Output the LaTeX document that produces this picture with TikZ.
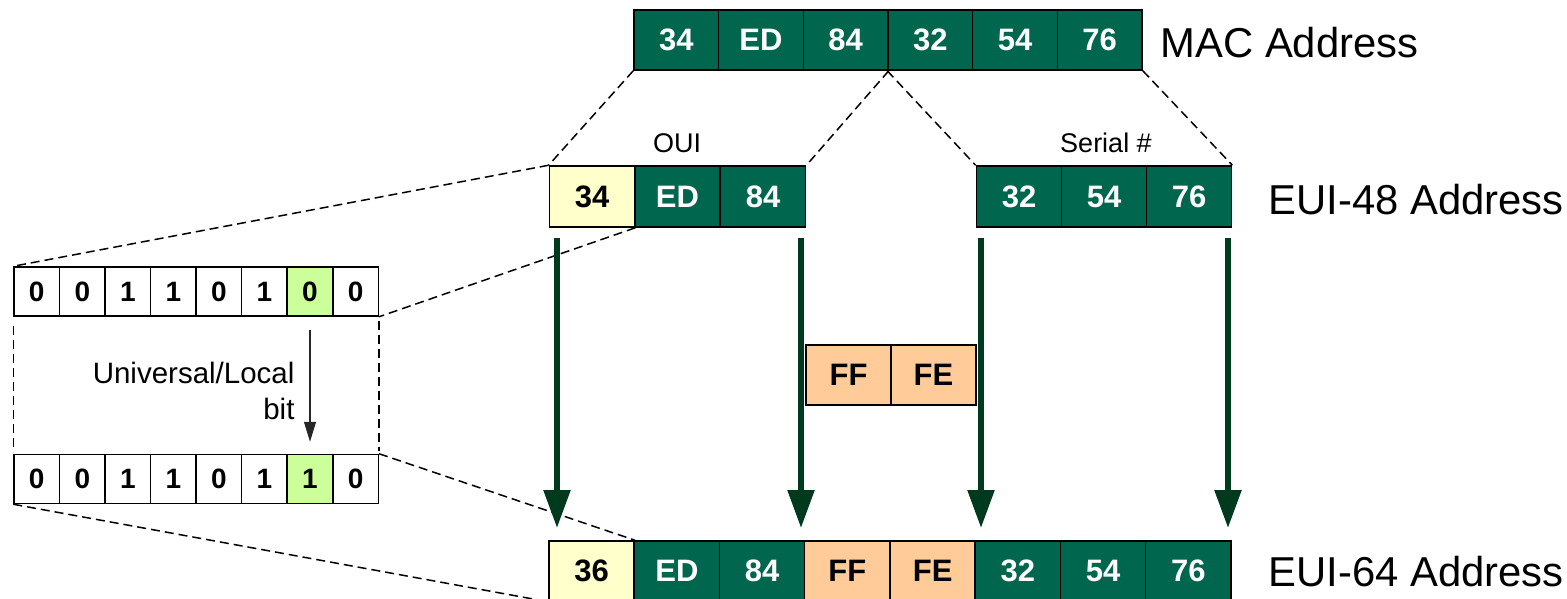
\documentclass[tikz,border=0pt]{standalone}
\usepackage{fontspec}
\setmainfont{Liberation Sans}
\usetikzlibrary{arrows.meta}
\definecolor{dkgreen}{RGB}{0,102,77}
\definecolor{arrgreen}{RGB}{0,58,30}
\definecolor{paleyellow}{RGB}{255,255,204}
\definecolor{litegreen}{RGB}{204,255,153}
\definecolor{peach}{RGB}{255,204,153}
\begin{document}
\begin{tikzpicture}[x=1pt,y=-1pt,
  cell/.style={draw=black,line width=1.5pt,inner sep=0pt,minimum width=85.3pt,minimum height=61pt,
    font=\fontsize{31}{36}\selectfont\bfseries},
  gcell/.style={cell,fill=dkgreen,text=white},
  ycell/.style={cell,fill=paleyellow,text=black},
  pcell/.style={cell,fill=peach,text=black},
  bitcell/.style={draw=black,line width=1.5pt,inner sep=0pt,minimum width=45.5pt,minimum height=49pt,
    fill=white,font=\fontsize{28}{32}\selectfont\bfseries},
  lgbit/.style={bitcell,fill=litegreen},
  dashline/.style={dashed,dash pattern=on 9pt off 5pt,line width=1.5pt},
  bigarrow/.style={draw=arrgreen,line width=5.5pt,-{Triangle[length=38pt,width=26pt]}},
  smallarrow/.style={draw=black!85,line width=1.2pt,-{Triangle[length=20pt,width=12pt]}},
  biglabel/.style={anchor=west,font=\fontsize{41.8}{48}\selectfont},
  midlabel/.style={font=\fontsize{27}{32}\selectfont},
]
\useasboundingbox (0,0) rectangle (1567,598);

% MAC address row
\foreach \t [count=\i] in {34,ED,84,32,54,76}
  \node[gcell,minimum width=84.7pt,minimum height=60pt] (m\i) at ({634+84.67*(\i-0.5)},40) {\t};
\node[biglabel] (maclbl) at (1157,43) {MAC Address};

% EUI-48 rows
\node[ycell] (o1) at (592,196.5) {34};
\node[gcell] (o2) at (677.5,196.5) {ED};
\node[gcell] (o3) at (763,196.5) {84};
\node[gcell] (s1) at (1019,196.5) {32};
\node[gcell] (s2) at (1104,196.5) {54};
\node[gcell] (s3) at (1189,196.5) {76};
\node[midlabel] (ouilbl) at (677,143) {OUI};
\node[midlabel] (serlbl) at (1106,143) {Serial \#};
\node[biglabel] (e48lbl) at (1265,200) {EUI-48 Address};

% MAC to EUI-48 dashed
\draw[dashline] (m1.south west) -- (o1.north west);
\draw[dashline] (m3.south east) -- (o3.north east);
\draw[dashline] (m4.south west) -- (s1.north west);
\draw[dashline] (m6.south east) -- (s3.north east);

% FF FE insert
\node[pcell,minimum height=60pt] (f1) at (848.5,375) {FF};
\node[pcell,minimum height=60pt] (f2) at (933.5,375) {FE};

% EUI-64 row
\foreach \t/\s [count=\i] in {36/ycell,ED/gcell,84/gcell,FF/pcell,FE/pcell,32/gcell,54/gcell,76/gcell}
  \node[\s,minimum height=60pt] (e\i) at ({549+85.25*(\i-0.5)},571) {\t};
\node[biglabel] (e64lbl) at (1265,572) {EUI-64 Address};

% bit rows
\foreach \t [count=\i] in {0,0,1,1,0,1,0,0}
  \node[bitcell] (b\i) at ({14+45.54*(\i-0.5)},291.5) {\t};
\node[lgbit] (b7g) at ({14+45.54*6.5},291.5) {0};
\foreach \t [count=\i] in {0,0,1,1,0,1,1,0}
  \node[bitcell] (c\i) at ({14+45.54*(\i-0.5)},479) {\t};
\node[lgbit] (c7g) at ({14+45.54*6.5},479) {1};

% zoom dashed lines
\draw[dashline] (o1.north west) -- (b1.north west);
\draw[dashline] (o1.south east) -- (b8.south east);
\draw[dashline] (c8.north east) -- (e1.north east);
\draw[dashline] (c1.south west) -- (e1.south west);
\draw[dashline,shorten <=9pt,shorten >=2pt] (b1.south west) -- (c1.north west);
\draw[dashline,shorten <=4pt,shorten >=3pt] (b8.south east) -- (c8.north east);

% Universal/Local bit
\draw[smallarrow,shorten <=13pt,shorten >=12pt] (b7g.south) -- (c7g.north);
\node[anchor=east,align=right,font=\fontsize{29.5}{36}\selectfont] (ullbl) at (298,391) {Universal/Local\\bit};

% big green arrows
\coordinate (a1s) at (557,238); \coordinate (a1e) at (557,528);
\coordinate (a2s) at (801,238); \coordinate (a2e) at (801,528);
\coordinate (a3s) at (981,238); \coordinate (a3e) at (981,528);
\coordinate (a4s) at (1228,238); \coordinate (a4e) at (1228,528);
\draw[bigarrow] (a1s) -- (a1e);
\draw[bigarrow] (a2s) -- (a2e);
\draw[bigarrow] (a3s) -- (a3e);
\draw[bigarrow] (a4s) -- (a4e);
\end{tikzpicture}
\end{document}
